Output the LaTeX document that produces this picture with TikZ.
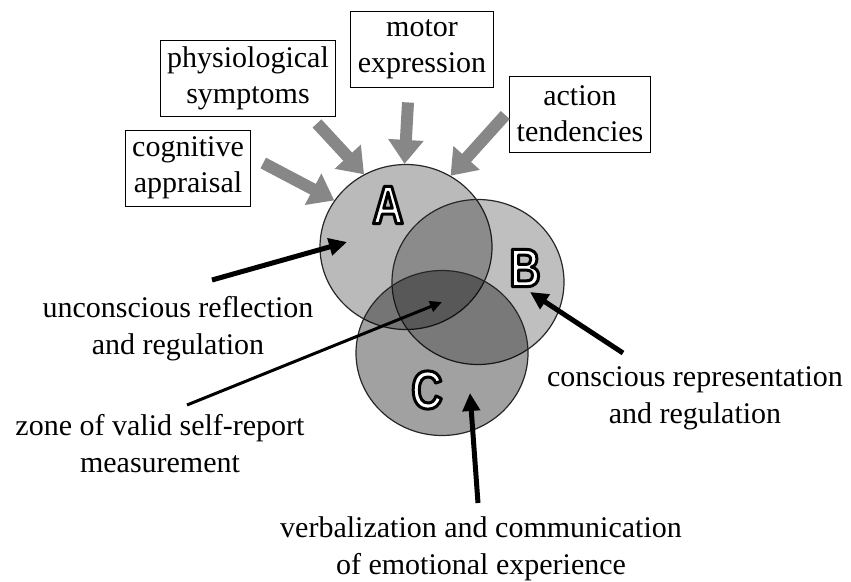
\documentclass[tikz,border=0pt]{standalone}
\usepackage{fontspec}
\setmainfont{Liberation Serif}
\newfontfamily\lettfont[FakeStretch=0.8]{Liberation Sans}
\usetikzlibrary{arrows.meta,shapes.geometric}
\definecolor{arrowgray}{RGB}{135,135,135}
% white letter with a black rim
\newcommand{\rimletter}[1]{\special{pdf:code q 0 G 2 Tr 3 w 1 J 1 j}#1\special{pdf:code Q}}
\tikzset{
  venn/.style={ellipse, draw=black!85, line width=1.2pt, fill=black,
    minimum width=172pt, minimum height=165pt, inner sep=0pt},
  infobox/.style={draw, line width=0.9pt, align=center, inner xsep=7pt,
    minimum height=76pt, font=\fontsize{30}{36}\selectfont},
  caption/.style={align=center, inner sep=0pt, anchor=north,
    font=\fontsize{30}{37}\selectfont},
  letter/.style={text=white, font=\lettfont\bfseries\fontsize{54}{54}\selectfont},
  grayarrow/.style={draw=arrowgray, line width=12pt, -{Triangle[width=34pt,length=24pt]}},
  blackarrow/.style={line width=5pt, -{Triangle[width=17pt,length=18pt]}}
}
\begin{document}
\begin{tikzpicture}[x=1pt,y=-1pt]
\useasboundingbox (0,0) rectangle (851,581);
% the three circles
\node[venn, fill opacity=0.27] (cA) at (406,247) {};
\node[venn, fill opacity=0.25] (cB) at (478,282) {};
\node[venn, fill opacity=0.37] (cC) at (442,353) {};
\foreach \c/\p in {A/{388,205}, B/{525,268}, C/{427,390}}
    \node[letter] (l\c) at (\p) {\rimletter{\c}};
% components feeding A
\foreach \n/\p/\t in {cog/{188,168}/{cognitive\\appraisal},
                      phys/{248,78}/{physiological\\symptoms},
                      mot/{422,49}/{motor\\expression},
                      act/{580,114}/{action\\tendencies}}
    \node[infobox] (\n) at (\p) {\t};
\foreach \n/\s/\a in {cog.east/{12,-5}/147, phys.south/{69,7}/120,
                      mot.south/{-14,15}/91, act.west/{-4,1}/58}
    \draw[grayarrow] ([shift={(\s)}]\n) -- (cA.\a);
% captions
\node[caption] (unc) at (178,296) {unconscious reflection\\and regulation};
\node[caption] (zone) at (160,414) {zone of valid self-report\\measurement};
\node[caption] (cons) at (695,366) {conscious representation\\and regulation};
\node[caption] (verb) at (481,516) {verbalization and communication\\of emotional experience};
\coordinate (pA) at (347,242);
\coordinate (pABC) at (442,302);
\coordinate (pB) at (530,292);
\coordinate (pC) at (470,393);
\draw[blackarrow] ([shift={(34,-16)}]unc.north) -- (pA);
\draw[blackarrow, line width=3pt, -{Triangle[width=11pt,length=12pt]}]
    ([shift={(27,-9)}]zone.north) -- (pABC);
\draw[blackarrow] ([shift={(-72,-13)}]cons.north) -- (pB);
\draw[blackarrow] ([shift={(-3,-13)}]verb.north) -- (pC);
\end{tikzpicture}
\end{document}
